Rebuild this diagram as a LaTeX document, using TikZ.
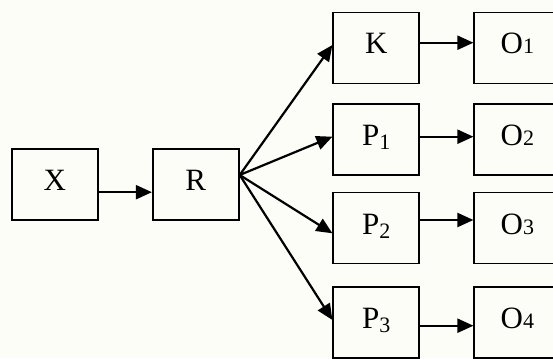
\documentclass[tikz,border=0pt]{standalone}
\usepackage{fontspec}
\setmainfont{Liberation Serif}
\usetikzlibrary{arrows.meta}
\definecolor{bgcream}{RGB}{253,253,248}
\newcommand{\osub}[1]{{\fontsize{22}{22}\selectfont #1}}
\newcommand{\psub}[1]{\raisebox{-4pt}{\fontsize{22}{22}\selectfont #1}}
\begin{document}
\begin{tikzpicture}[x=1pt,y=-1pt,
  blk/.style={draw, line width=1.8pt, minimum width=86pt, minimum height=71pt,
    inner sep=0pt, text height=20pt, text depth=8pt,
    font=\fontsize{31}{36}\selectfont},
  arr/.style={line width=2.2pt, -{Triangle[length=16pt,width=14pt]}}]
\fill[bgcream] (0,0) rectangle (553,358);
\useasboundingbox (0,0) rectangle (553,358);
\node[blk] (X) at (54.7,184.2) {X};
\node[blk] (R) at (195.8,184.2) {R};
\node[blk] (K) at (376.3,48) {K};
\node[blk] (P1) at (376.3,139.2) {P\psub{1}};
\node[blk] (P2) at (376.3,228) {P\psub{2}};
\node[blk] (P3) at (376.3,322.7) {P\psub{3}};
\node[blk] (O1) at (517.3,48) {O\osub{1}};
\node[blk] (O2) at (517.3,139.2) {O\osub{2}};
\node[blk] (O3) at (517.3,228) {O\osub{3}};
\node[blk] (O4) at (517.3,322.7) {O\osub{4}};
\coordinate (hub) at ([yshift=9.2pt]R.east);
\draw[arr] ([yshift=-8pt]X.east) -- ([yshift=-8pt]R.west);
\draw[arr] (hub) -- ([yshift=3pt]K.west);
\draw[arr] (hub) -- ([yshift=2.5pt]P1.west);
\draw[arr] (hub) -- ([yshift=-5.3pt]P2.west);
\draw[arr] (hub) -- ([yshift=2.7pt]P3.west);
\draw[arr] ([yshift=5.3pt]K.east) -- ([yshift=5.3pt]O1.west);
\draw[arr] ([yshift=2.5pt]P1.east) -- ([yshift=2.5pt]O2.west);
\draw[arr] ([yshift=8pt]P2.east) -- ([yshift=8pt]O3.west);
\draw[arr] ([yshift=-3pt]P3.east) -- ([yshift=-3pt]O4.west);
\end{tikzpicture}
\end{document}
